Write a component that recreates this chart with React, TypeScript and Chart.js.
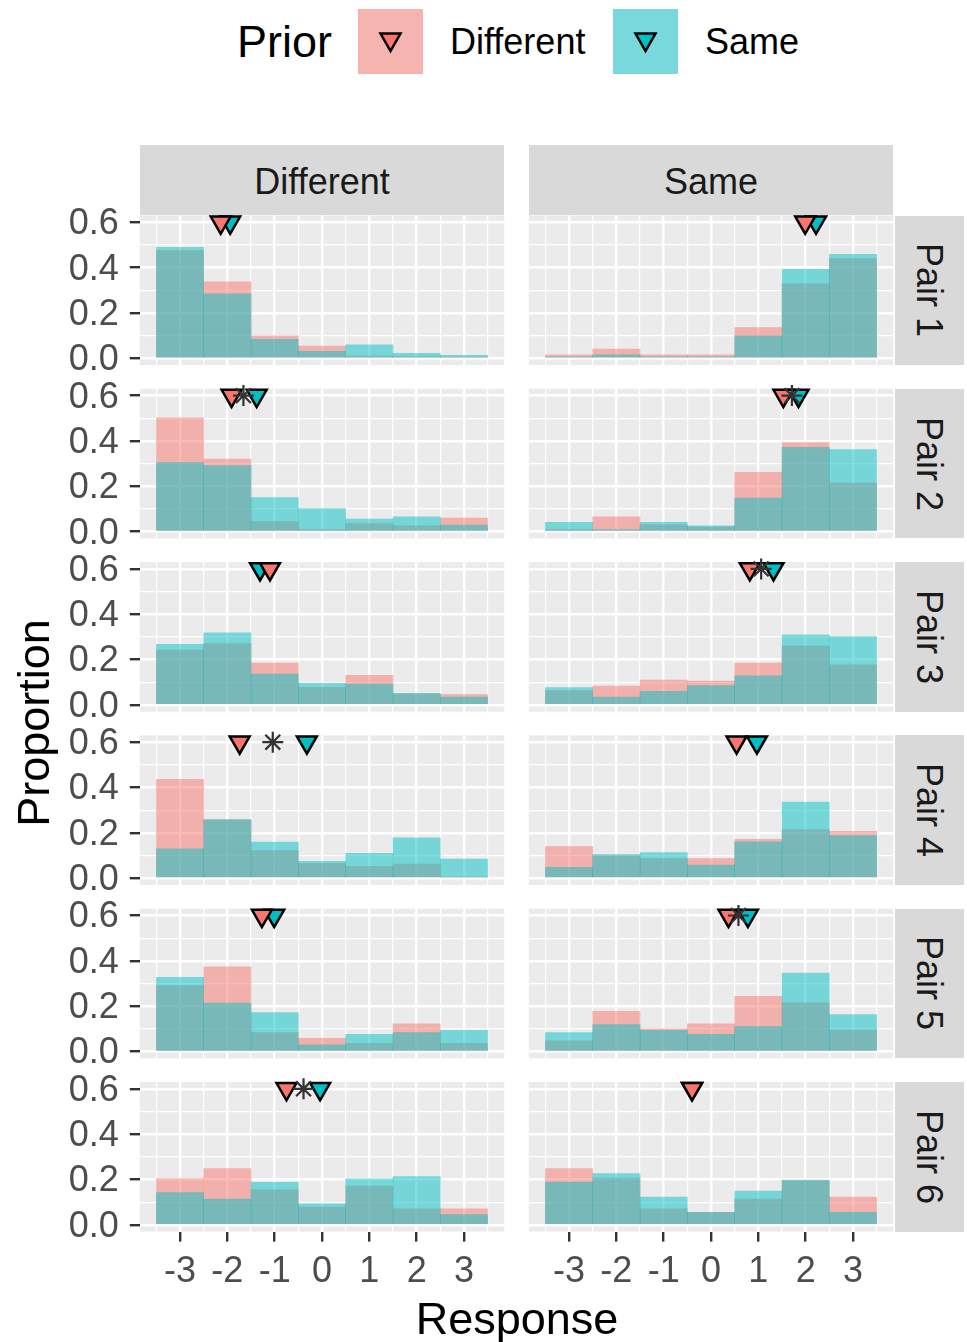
import React, { useEffect, useRef } from 'react';
import { Chart, registerables } from 'chart.js';

Chart.register(...registerables);

const FONT = "'Liberation Sans', Arial, sans-serif";

// ---------------- data ----------------
const responses = [-3, -2, -1, 0, 1, 2, 3];
const responseTickLabels = ['-3', '-2', '-1', '0', '1', '2', '3'];
const proportionTicks = [0, 0.2, 0.4, 0.6];
const proportionTickLabels = ['0.0', '0.2', '0.4', '0.6'];
const conditions = ['Different', 'Same'];
const pairs = ['Pair 1', 'Pair 2', 'Pair 3', 'Pair 4', 'Pair 5', 'Pair 6'];
const priors = ['Different', 'Same'];
const markerLevel = 0.6;

// proportions by response (-3..3); each: [Different condition, Same condition]
const pair1PriorDifferent = [
  [0.475, 0.337, 0.099, 0.054, 0.01, 0.008, 0.005],
  [0.015, 0.041, 0.015, 0.015, 0.135, 0.329, 0.44],
];
const pair1PriorSame = [
  [0.49, 0.284, 0.084, 0.031, 0.059, 0.022, 0.013],
  [0.006, 0.015, 0.006, 0.006, 0.099, 0.393, 0.459],
];
const pair2PriorDifferent = [
  [0.502, 0.32, 0.044, 0.009, 0.035, 0.026, 0.06],
  [0.009, 0.065, 0.03, 0.02, 0.262, 0.393, 0.214],
];
const pair2PriorSame = [
  [0.305, 0.291, 0.15, 0.102, 0.055, 0.065, 0.029],
  [0.041, 0.009, 0.041, 0.025, 0.148, 0.372, 0.362],
];
const pair3PriorDifferent = [
  [0.242, 0.27, 0.185, 0.077, 0.131, 0.048, 0.045],
  [0.063, 0.083, 0.109, 0.105, 0.185, 0.26, 0.177],
];
const pair3PriorSame = [
  [0.267, 0.318, 0.136, 0.095, 0.092, 0.051, 0.034],
  [0.076, 0.034, 0.06, 0.085, 0.128, 0.309, 0.301],
];
const pair4PriorDifferent = [
  [0.436, 0.257, 0.122, 0.064, 0.052, 0.062, 0.005],
  [0.139, 0.099, 0.087, 0.087, 0.172, 0.214, 0.207],
];
const pair4PriorSame = [
  [0.13, 0.259, 0.159, 0.074, 0.11, 0.178, 0.084],
  [0.048, 0.104, 0.113, 0.058, 0.161, 0.336, 0.188],
];
const pair5PriorDifferent = [
  [0.291, 0.374, 0.083, 0.058, 0.036, 0.122, 0.036],
  [0.047, 0.177, 0.1, 0.122, 0.243, 0.215, 0.094],
];
const pair5PriorSame = [
  [0.327, 0.214, 0.172, 0.029, 0.076, 0.084, 0.093],
  [0.084, 0.119, 0.093, 0.076, 0.11, 0.346, 0.163],
];
const pair6PriorDifferent = [
  [0.204, 0.248, 0.154, 0.078, 0.171, 0.07, 0.07],
  [0.248, 0.206, 0.07, 0.055, 0.113, 0.194, 0.122],
];
const pair6PriorSame = [
  [0.142, 0.113, 0.187, 0.093, 0.203, 0.213, 0.045],
  [0.188, 0.226, 0.122, 0.055, 0.149, 0.197, 0.055],
];

// mean response markers per pair: [Different condition, Same condition]
const meanPriorDifferent = [
  [-2.14, 1.99],
  [-1.91, 1.53],
  [-1.1, 0.82],
  [-1.74, 0.54],
  [-1.27, 0.37],
  [-0.75, -0.4],
];
const meanPriorSame = [
  [-1.94, 2.22],
  [-1.38, 1.85],
  [-1.31, 1.32],
  [-0.32, 0.97],
  [-1.01, 0.78],
  [-0.04, -0.4],
];
const starMarks: (number | null)[][] = [
  [null, null],
  [-1.66, 1.71],
  [null, 1.06],
  [-1.04, null],
  [null, 0.58],
  [-0.39, null],
];

const priorDifferentByPair = [pair1PriorDifferent, pair2PriorDifferent, pair3PriorDifferent, pair4PriorDifferent, pair5PriorDifferent, pair6PriorDifferent];
const priorSameByPair = [pair1PriorSame, pair2PriorSame, pair3PriorSame, pair4PriorSame, pair5PriorSame, pair6PriorSame];

// ---------------- layout ----------------
const PANEL_LEFT = [139.8, 528.8];
const PANEL_WIDTH = 364.4;
const PANEL_TOP = 215.5;
const ROW_STEP = 173.3;
const PANEL_HEIGHT = 149.6;
const X_MIN = -3.85;
const X_MAX = 3.85;
const Y_MIN = -0.03;
const Y_MAX = 0.63;

const COL_DIFF = '#F8766D';
const COL_SAME = '#00BFC4';
const FILL_DIFF = 'rgba(248,118,109,0.5)';
const FILL_SAME = 'rgba(0,191,196,0.5)';

const xMinorBreaks = responses.map((v) => v - 0.5).concat([responses[responses.length - 1] + 0.5]);
const yBreaks: number[] = [];
proportionTicks.forEach((v, i) => {
  yBreaks.push(v);
  if (i < proportionTicks.length - 1) yBreaks.push((v + proportionTicks[i + 1]) / 2);
});
const isMajorY = (v: number) => proportionTicks.some((p) => Math.abs(p - v) < 1e-9);

const panelBg = {
  id: 'panelBg',
  beforeDraw(chart: any) {
    const { ctx, chartArea: a } = chart;
    ctx.save();
    ctx.fillStyle = '#EBEBEB';
    ctx.fillRect(a.left, a.top, a.right - a.left, a.bottom - a.top);
    ctx.restore();
  },
};

function Panel({ row, col }: { row: number; col: number }) {
  const ref = useRef<HTMLCanvasElement>(null);
  const L = PANEL_LEFT[col];
  const T = PANEL_TOP + row * ROW_STEP;
  const R = L + PANEL_WIDTH;
  const B = T + PANEL_HEIGHT;
  const showY = col === 0;
  const showX = row === pairs.length - 1;
  const cl = showY ? 0 : Math.floor(L) - 14;
  const ct = Math.floor(T) - 24;
  const cr = Math.ceil(R) + 14;
  const cb = Math.ceil(B) + (showX ? 72 : 24);
  const w = cr - cl;
  const h = cb - ct;

  useEffect(() => {
    const diff = priorDifferentByPair[row][col];
    const same = priorSameByPair[row][col];
    const star = starMarks[row][col];
    const datasets: any[] = [
      {
        type: 'bar',
        label: priors[0],
        data: responses.map((x, i) => ({ x, y: diff[i] })),
        backgroundColor: FILL_DIFF,
        borderWidth: 0,
        grouped: false,
        barPercentage: 1,
        categoryPercentage: 1,
        order: 4,
      },
      {
        type: 'bar',
        label: priors[1],
        data: responses.map((x, i) => ({ x, y: same[i] })),
        backgroundColor: FILL_SAME,
        borderWidth: 0,
        grouped: false,
        barPercentage: 1,
        categoryPercentage: 1,
        order: 3,
      },
      {
        type: 'scatter',
        label: priors[1] + ' mean',
        data: [{ x: meanPriorSame[row][col], y: markerLevel }],
        pointStyle: 'triangle',
        pointRotation: 180,
        pointRadius: 11.5,
        pointHoverRadius: 11.5,
        pointBackgroundColor: COL_SAME,
        pointBorderColor: '#000000',
        pointBorderWidth: 2.5,
        clip: false,
        order: 2,
      },
      {
        type: 'scatter',
        label: priors[0] + ' mean',
        data: [{ x: meanPriorDifferent[row][col], y: markerLevel }],
        pointStyle: 'triangle',
        pointRotation: 180,
        pointRadius: 11.5,
        pointHoverRadius: 11.5,
        pointBackgroundColor: COL_DIFF,
        pointBorderColor: '#000000',
        pointBorderWidth: 2.5,
        clip: false,
        order: 1,
      },
    ];
    if (star !== null) {
      datasets.push({
        type: 'scatter',
        label: 'overall',
        data: [{ x: star, y: markerLevel }],
        pointStyle: 'star',
        pointRadius: 10.5,
        pointHoverRadius: 10.5,
        pointBorderColor: '#333333',
        pointBorderWidth: 2.2,
        clip: false,
        order: 0,
      });
    }

    const chart = new Chart(ref.current as HTMLCanvasElement, {
      type: 'bar',
      data: { datasets },
      plugins: [panelBg],
      options: {
        animation: false,
        responsive: false,
        events: [],
        layout: {
          autoPadding: false,
          padding: {
            left: showY ? 0 : L - cl,
            right: cr - R,
            top: T - ct,
            bottom: showX ? 0 : cb - B,
          },
        },
        plugins: { legend: { display: false }, tooltip: { enabled: false } },
        scales: {
          xMinor: {
            type: 'linear',
            position: 'bottom',
            min: X_MIN,
            max: X_MAX,
            offset: false,
            afterBuildTicks: (s: any) => {
              s.ticks = xMinorBreaks.map((v) => ({ value: v }));
            },
            grid: { offset: false, color: '#FFFFFF', lineWidth: 1.2, drawTicks: false },
            border: { display: false },
            ticks: { display: false },
            afterFit: (s: any) => {
              s.height = 0;
              s.paddingLeft = 0;
              s.paddingRight = 0;
              s.paddingTop = 0;
              s.paddingBottom = 0;
            },
          },
          x: {
            type: 'linear',
            position: 'bottom',
            min: X_MIN,
            max: X_MAX,
            offset: false,
            afterBuildTicks: (s: any) => {
              s.ticks = responses.map((v) => ({ value: v }));
            },
            grid: {
              offset: false,
              color: '#FFFFFF',
              lineWidth: 2.4,
              drawTicks: showX,
              tickLength: 10,
              tickColor: '#333333',
              tickWidth: 2.4,
            },
            border: { display: false },
            ticks: {
              display: showX,
              autoSkip: false,
              maxRotation: 0,
              minRotation: 0,
              padding: 9,
              color: '#4D4D4D',
              font: { family: FONT, size: 36 },
              callback: (v: any) => {
                const i = responses.indexOf(Number(v));
                return i >= 0 ? responseTickLabels[i] : '';
              },
            },
            afterFit: (s: any) => {
              s.height = showX ? cb - B : 0;
              s.paddingLeft = 0;
              s.paddingRight = 0;
              s.paddingTop = 0;
              s.paddingBottom = 0;
            },
          },
          y: {
            type: 'linear',
            position: 'left',
            min: Y_MIN,
            max: Y_MAX,
            afterBuildTicks: (s: any) => {
              s.ticks = yBreaks.map((v) => ({ value: v }));
            },
            grid: {
              color: '#FFFFFF',
              lineWidth: (c: any) => (c.tick && isMajorY(c.tick.value) ? 2.4 : 1.2),
              drawTicks: showY,
              tickLength: 10,
              tickWidth: 2.4,
              tickColor: (c: any) => (c.tick && isMajorY(c.tick.value) ? '#333333' : 'rgba(0,0,0,0)'),
            },
            border: { display: false },
            ticks: {
              display: showY,
              autoSkip: false,
              padding: 11,
              labelOffset: 2,
              color: '#4D4D4D',
              font: { family: FONT, size: 36 },
              callback: (v: any) => {
                const i = proportionTicks.findIndex((p) => Math.abs(p - Number(v)) < 1e-9);
                return i >= 0 ? proportionTickLabels[i] : '';
              },
            },
            afterFit: (s: any) => {
              s.width = showY ? L - cl : 0;
              s.paddingLeft = 0;
              s.paddingRight = 0;
              s.paddingTop = 0;
              s.paddingBottom = 0;
            },
          },
        },
      } as any,
    });
    return () => chart.destroy();
  }, []);

  return (
    <canvas
      ref={ref}
      width={w}
      height={h}
      style={{ position: 'absolute', left: cl, top: ct, width: w, height: h }}
    />
  );
}

function TriangleKey({ left, fill, key2 }: { left: number; fill: string; key2: string }) {
  return (
    <div
      style={{
        position: 'absolute',
        left,
        top: 9,
        width: 65,
        height: 65,
        background: fill,
      }}
    >
      <svg width={65} height={65} style={{ position: 'absolute', left: 0, top: 0 }}>
        <polygon points="22.5,24.5 42.5,24.5 32.5,42" fill={key2} stroke="#000" strokeWidth={2.5} strokeLinejoin="miter" />
      </svg>
    </div>
  );
}

export default function App() {
  const rows = pairs.map((_, r) => r);
  return (
    <div
      style={{
        position: 'absolute',
        left: 0,
        top: 0,
        width: 967,
        height: 1342,
        background: '#FFFFFF',
        fontFamily: FONT,
        overflow: 'hidden',
      }}
    >
      {/* legend */}
      <div style={{ position: 'absolute', left: 237, top: 16, fontSize: 45, lineHeight: '52px', color: '#000' }}>Prior</div>
      <TriangleKey left={358} fill="#F5B4B0" key2={COL_DIFF} />
      <div style={{ position: 'absolute', left: 450, top: 20, fontSize: 36, lineHeight: '44px', color: '#000' }}>{priors[0]}</div>
      <TriangleKey left={613} fill="#79D8DB" key2={COL_SAME} />
      <div style={{ position: 'absolute', left: 705, top: 20, fontSize: 36, lineHeight: '44px', color: '#000' }}>{priors[1]}</div>

      {/* column strips */}
      {conditions.map((c, i) => (
        <div
          key={c}
          style={{
            position: 'absolute',
            left: PANEL_LEFT[i],
            top: 145,
            width: PANEL_WIDTH,
            height: 69.5,
            background: '#D9D9D9',
            color: '#1A1A1A',
            fontSize: 36,
            lineHeight: '73.5px',
            textAlign: 'center',
            overflow: 'hidden',
          }}
        >
          {c}
        </div>
      ))}

      {/* row strips */}
      {pairs.map((p, r) => (
        <div
          key={p}
          style={{
            position: 'absolute',
            left: 895,
            top: PANEL_TOP + r * ROW_STEP,
            width: 69,
            height: PANEL_HEIGHT,
            background: '#D9D9D9',
            color: '#1A1A1A',
            fontSize: 36,
            lineHeight: '69px',
            writingMode: 'vertical-rl',
            textAlign: 'center',
          }}
        >
          {p}
        </div>
      ))}

      {/* panels */}
      {rows.map((r) =>
        conditions.map((_, c) => <Panel key={r + '-' + c} row={r} col={c} />)
      )}

      {/* axis titles */}
      <div
        style={{
          position: 'absolute',
          left: 34 - 200,
          top: 723 - 26,
          width: 400,
          height: 52,
          lineHeight: '52px',
          fontSize: 45,
          textAlign: 'center',
          color: '#000',
          transform: 'rotate(-90deg)',
        }}
      >
        Proportion
      </div>
      <div
        style={{
          position: 'absolute',
          left: 317,
          top: 1319 - 26,
          width: 400,
          height: 52,
          lineHeight: '52px',
          fontSize: 45,
          textAlign: 'center',
          color: '#000',
        }}
      >
        Response
      </div>
    </div>
  );
}
